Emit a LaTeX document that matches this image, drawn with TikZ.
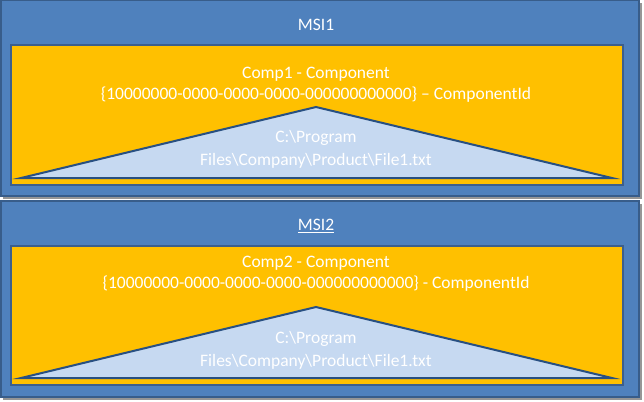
\documentclass[tikz,border=0pt]{standalone}
\usepackage{fontspec}
\setmainfont{Carlito}
\definecolor{msifill}{RGB}{79,129,189}
\definecolor{msiline}{RGB}{56,93,138}
\definecolor{compfill}{RGB}{255,192,0}
\definecolor{compline}{RGB}{60,95,140}
\definecolor{filefill}{RGB}{198,217,241}
\definecolor{fileline}{RGB}{40,80,130}
\definecolor{shadowgray}{RGB}{150,150,150}

\begin{document}
\begin{tikzpicture}[
  x=1pt, y=-1pt,
  font=\fontsize{17.5}{21}\selectfont,
  msibox/.style={draw=msiline, line width=1.5pt, fill=msifill},
  compbox/.style={draw=compline, line width=1.5pt, fill=compfill},
  filetri/.style={draw=fileline, line width=2pt, fill=filefill, line join=miter},
  boxlabel/.style={text=white, align=center, inner sep=0pt},
  pathlabel/.style={text=white, align=center, inner sep=0pt,
    font=\fontsize{17.5}{23}\selectfont}
]
\useasboundingbox (0,0) rectangle (644,401);

% =====================================================================
% MSI1
% =====================================================================
\fill[shadowgray] (3,3) rectangle (642,199);
\draw[msibox] (0.75,0.75) rectangle (639,196);
\node[boxlabel] (msia) at (316,25) {MSI1};

\draw[compbox] (11,45) rectangle (623,185);
\node[boxlabel] (compa) at (316,84.5)
  {Comp1 - Component\\\{10000000-0000-0000-0000-000000000000\} -- ComponentId};

\draw[filetri] (316,107) -- (612,178) -- (21,178) -- cycle;
\node[pathlabel] (filea) at (316,149.5)
  {C:\textbackslash Program\\Files\textbackslash Company\textbackslash Product\textbackslash File1.txt};

% =====================================================================
% MSI2
% =====================================================================
\fill[shadowgray] (3,204) rectangle (642,400);
\draw[msibox] (0.75,201) rectangle (639,397);
\node[boxlabel] (msib) at (316,226) {\underline{MSI2}};

\draw[compbox] (11,246) rectangle (623,385);
\node[boxlabel] (compb) at (316,274)
  {Comp2 - Component\\\{10000000-0000-0000-0000-000000000000\} - ComponentId};

\draw[filetri] (316,307) -- (612,378) -- (21,378) -- cycle;
\node[pathlabel] (fileb) at (316,350.5)
  {C:\textbackslash Program\\Files\textbackslash Company\textbackslash Product\textbackslash File1.txt};

\end{tikzpicture}
\end{document}
